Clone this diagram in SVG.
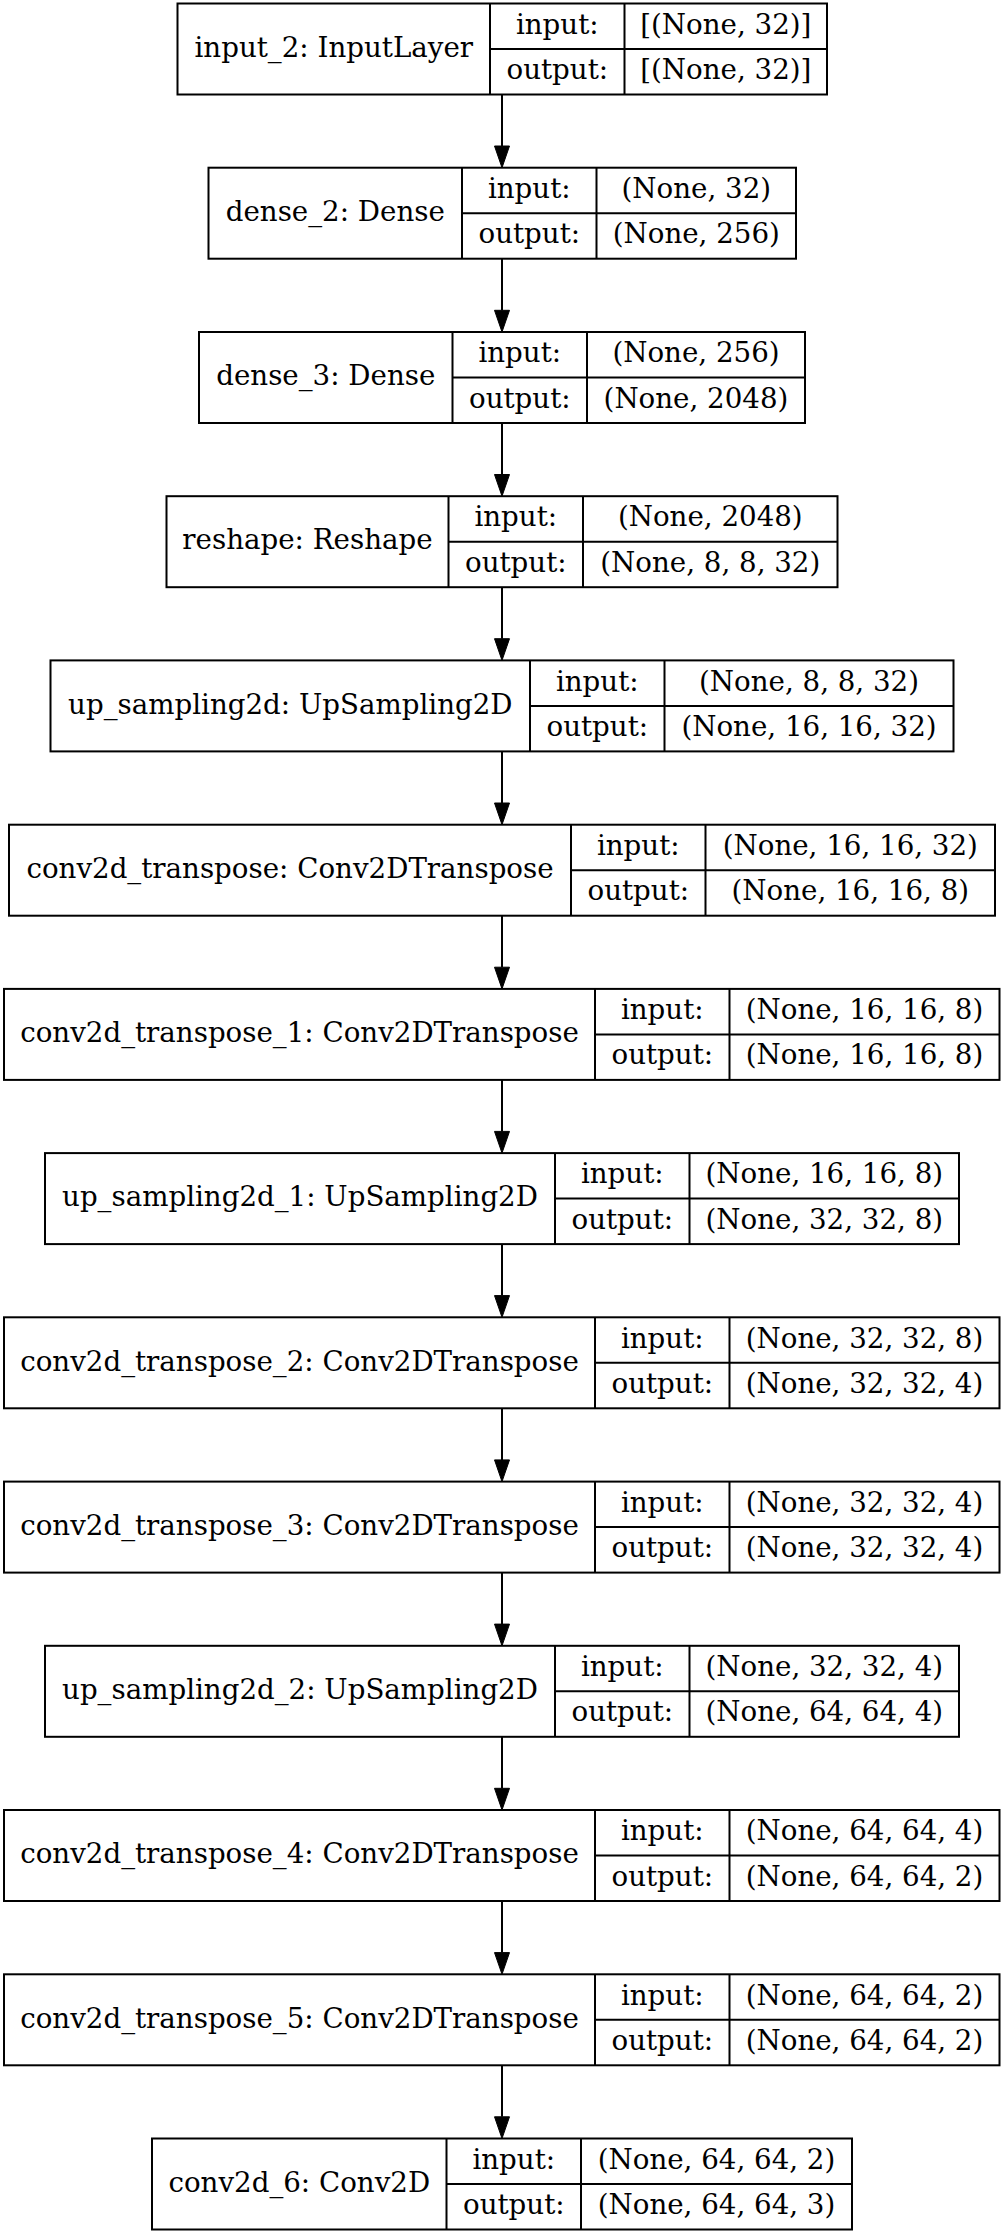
<svg xmlns="http://www.w3.org/2000/svg" width="1004" height="2233" viewBox="0 0 1004 2233">
<style>
  .box { fill: #ffffff; stroke: #000000; stroke-width: 2; }
  .ln { stroke: #000000; stroke-width: 2; fill: none; }
  .t { font-family: "DejaVu Serif", serif; font-size: 27.7px; fill: #000000; text-anchor: middle; }
  .edge { stroke: #000000; stroke-width: 2; fill: none; marker-end: url(#arrow); }
</style>
<defs>
  <marker id="arrow" markerUnits="userSpaceOnUse" markerWidth="22" markerHeight="16" refX="0" refY="7.5" orient="auto" viewBox="0 0 22 15" overflow="visible">
    <path d="M0,0 L21.7,7.5 L0,15 z" fill="#000000" stroke="#000000" stroke-width="1"/>
  </marker>
</defs>
<rect x="0" y="0" width="1004" height="2233" fill="#ffffff"/>

<g id="connectors">
  <line class="edge" x1="502" y1="94.5" x2="502" y2="146"/>
  <line class="edge" x1="502" y1="258.7" x2="502" y2="310.3"/>
  <line class="edge" x1="502" y1="423" x2="502" y2="474.5"/>
  <line class="edge" x1="502" y1="587.2" x2="502" y2="638.7"/>
  <line class="edge" x1="502" y1="751.4" x2="502" y2="803"/>
  <line class="edge" x1="502" y1="915.7" x2="502" y2="967.2"/>
  <line class="edge" x1="502" y1="1079.9" x2="502" y2="1131.4"/>
  <line class="edge" x1="502" y1="1244.1" x2="502" y2="1295.6"/>
  <line class="edge" x1="502" y1="1408.3" x2="502" y2="1459.9"/>
  <line class="edge" x1="502" y1="1572.6" x2="502" y2="1624.1"/>
  <line class="edge" x1="502" y1="1736.8" x2="502" y2="1788.3"/>
  <line class="edge" x1="502" y1="1901" x2="502" y2="1952.6"/>
  <line class="edge" x1="502" y1="2065.3" x2="502" y2="2116.8"/>
</g>

<g id="input_2" transform="translate(0,3.5)">
  <rect class="box" x="177.5" y="0" width="649.5" height="91"/>
  <path class="ln" d="M490,0 V91 M624.5,0 V91 M490,45.5 H827"/>
  <text class="t" x="333.8" y="53.3">input_2: InputLayer</text>
  <text class="t" x="557.3" y="30.3">input:</text>
  <text class="t" x="557.3" y="75.5">output:</text>
  <text class="t" x="725.8" y="30.3">[(None, 32)]</text>
  <text class="t" x="725.8" y="75.5">[(None, 32)]</text>
</g>

<g id="dense_2" transform="translate(0,167.7)">
  <rect class="box" x="208.5" y="0" width="587.5" height="91"/>
  <path class="ln" d="M462,0 V91 M596.5,0 V91 M462,45.5 H796"/>
  <text class="t" x="335.3" y="53.3">dense_2: Dense</text>
  <text class="t" x="529.3" y="30.3">input:</text>
  <text class="t" x="529.3" y="75.5">output:</text>
  <text class="t" x="696.3" y="30.3">(None, 32)</text>
  <text class="t" x="696.3" y="75.5">(None, 256)</text>
</g>

<g id="dense_3" transform="translate(0,332)">
  <rect class="box" x="199" y="0" width="606" height="91"/>
  <path class="ln" d="M452.5,0 V91 M587,0 V91 M452.5,45.5 H805"/>
  <text class="t" x="325.8" y="53.3">dense_3: Dense</text>
  <text class="t" x="519.8" y="30.3">input:</text>
  <text class="t" x="519.8" y="75.5">output:</text>
  <text class="t" x="696" y="30.3">(None, 256)</text>
  <text class="t" x="696" y="75.5">(None, 2048)</text>
</g>

<g id="reshape" transform="translate(0,496.2)">
  <rect class="box" x="166.5" y="0" width="671" height="91"/>
  <path class="ln" d="M448.5,0 V91 M583,0 V91 M448.5,45.5 H837.5"/>
  <text class="t" x="307.5" y="53.3">reshape: Reshape</text>
  <text class="t" x="515.8" y="30.3">input:</text>
  <text class="t" x="515.8" y="75.5">output:</text>
  <text class="t" x="710.3" y="30.3">(None, 2048)</text>
  <text class="t" x="710.3" y="75.5">(None, 8, 8, 32)</text>
</g>

<g id="up_sampling2d" transform="translate(0,660.4)">
  <rect class="box" x="50.5" y="0" width="903" height="91"/>
  <path class="ln" d="M530,0 V91 M664.5,0 V91 M530,45.5 H953.5"/>
  <text class="t" x="290.3" y="53.3">up_sampling2d: UpSampling2D</text>
  <text class="t" x="597.3" y="30.3">input:</text>
  <text class="t" x="597.3" y="75.5">output:</text>
  <text class="t" x="809" y="30.3">(None, 8, 8, 32)</text>
  <text class="t" x="809" y="75.5">(None, 16, 16, 32)</text>
</g>

<g id="conv2d_transpose" transform="translate(0,824.7)">
  <rect class="box" x="9" y="0" width="986" height="91"/>
  <path class="ln" d="M571,0 V91 M705.5,0 V91 M571,45.5 H995"/>
  <text class="t" x="290" y="53.3">conv2d_transpose: Conv2DTranspose</text>
  <text class="t" x="638.3" y="30.3">input:</text>
  <text class="t" x="638.3" y="75.5">output:</text>
  <text class="t" x="850.3" y="30.3">(None, 16, 16, 32)</text>
  <text class="t" x="850.3" y="75.5">(None, 16, 16, 8)</text>
</g>

<g id="conv2d_transpose_1" transform="translate(0,988.9)">
  <rect class="box" x="4" y="0" width="995.5" height="91"/>
  <path class="ln" d="M595,0 V91 M729.5,0 V91 M595,45.5 H999.5"/>
  <text class="t" x="299.5" y="53.3">conv2d_transpose_1: Conv2DTranspose</text>
  <text class="t" x="662.3" y="30.3">input:</text>
  <text class="t" x="662.3" y="75.5">output:</text>
  <text class="t" x="864.5" y="30.3">(None, 16, 16, 8)</text>
  <text class="t" x="864.5" y="75.5">(None, 16, 16, 8)</text>
</g>

<g id="up_sampling2d_1" transform="translate(0,1153.1)">
  <rect class="box" x="45" y="0" width="914" height="91"/>
  <path class="ln" d="M555,0 V91 M689.5,0 V91 M555,45.5 H959"/>
  <text class="t" x="300" y="53.3">up_sampling2d_1: UpSampling2D</text>
  <text class="t" x="622.3" y="30.3">input:</text>
  <text class="t" x="622.3" y="75.5">output:</text>
  <text class="t" x="824.3" y="30.3">(None, 16, 16, 8)</text>
  <text class="t" x="824.3" y="75.5">(None, 32, 32, 8)</text>
</g>

<g id="conv2d_transpose_2" transform="translate(0,1317.3)">
  <rect class="box" x="4" y="0" width="995.5" height="91"/>
  <path class="ln" d="M595,0 V91 M729.5,0 V91 M595,45.5 H999.5"/>
  <text class="t" x="299.5" y="53.3">conv2d_transpose_2: Conv2DTranspose</text>
  <text class="t" x="662.3" y="30.3">input:</text>
  <text class="t" x="662.3" y="75.5">output:</text>
  <text class="t" x="864.5" y="30.3">(None, 32, 32, 8)</text>
  <text class="t" x="864.5" y="75.5">(None, 32, 32, 4)</text>
</g>

<g id="conv2d_transpose_3" transform="translate(0,1481.6)">
  <rect class="box" x="4" y="0" width="995.5" height="91"/>
  <path class="ln" d="M595,0 V91 M729.5,0 V91 M595,45.5 H999.5"/>
  <text class="t" x="299.5" y="53.3">conv2d_transpose_3: Conv2DTranspose</text>
  <text class="t" x="662.3" y="30.3">input:</text>
  <text class="t" x="662.3" y="75.5">output:</text>
  <text class="t" x="864.5" y="30.3">(None, 32, 32, 4)</text>
  <text class="t" x="864.5" y="75.5">(None, 32, 32, 4)</text>
</g>

<g id="up_sampling2d_2" transform="translate(0,1645.8)">
  <rect class="box" x="45" y="0" width="914" height="91"/>
  <path class="ln" d="M555,0 V91 M689.5,0 V91 M555,45.5 H959"/>
  <text class="t" x="300" y="53.3">up_sampling2d_2: UpSampling2D</text>
  <text class="t" x="622.3" y="30.3">input:</text>
  <text class="t" x="622.3" y="75.5">output:</text>
  <text class="t" x="824.3" y="30.3">(None, 32, 32, 4)</text>
  <text class="t" x="824.3" y="75.5">(None, 64, 64, 4)</text>
</g>

<g id="conv2d_transpose_4" transform="translate(0,1810)">
  <rect class="box" x="4" y="0" width="995.5" height="91"/>
  <path class="ln" d="M595,0 V91 M729.5,0 V91 M595,45.5 H999.5"/>
  <text class="t" x="299.5" y="53.3">conv2d_transpose_4: Conv2DTranspose</text>
  <text class="t" x="662.3" y="30.3">input:</text>
  <text class="t" x="662.3" y="75.5">output:</text>
  <text class="t" x="864.5" y="30.3">(None, 64, 64, 4)</text>
  <text class="t" x="864.5" y="75.5">(None, 64, 64, 2)</text>
</g>

<g id="conv2d_transpose_5" transform="translate(0,1974.3)">
  <rect class="box" x="4" y="0" width="995.5" height="91"/>
  <path class="ln" d="M595,0 V91 M729.5,0 V91 M595,45.5 H999.5"/>
  <text class="t" x="299.5" y="53.3">conv2d_transpose_5: Conv2DTranspose</text>
  <text class="t" x="662.3" y="30.3">input:</text>
  <text class="t" x="662.3" y="75.5">output:</text>
  <text class="t" x="864.5" y="30.3">(None, 64, 64, 2)</text>
  <text class="t" x="864.5" y="75.5">(None, 64, 64, 2)</text>
</g>

<g id="conv2d_6" transform="translate(0,2138.5)">
  <rect class="box" x="152" y="0" width="700" height="91"/>
  <path class="ln" d="M446.5,0 V91 M581,0 V91 M446.5,45.5 H852"/>
  <text class="t" x="299.3" y="53.3">conv2d_6: Conv2D</text>
  <text class="t" x="513.8" y="30.3">input:</text>
  <text class="t" x="513.8" y="75.5">output:</text>
  <text class="t" x="716.5" y="30.3">(None, 64, 64, 2)</text>
  <text class="t" x="716.5" y="75.5">(None, 64, 64, 3)</text>
</g>
</svg>
